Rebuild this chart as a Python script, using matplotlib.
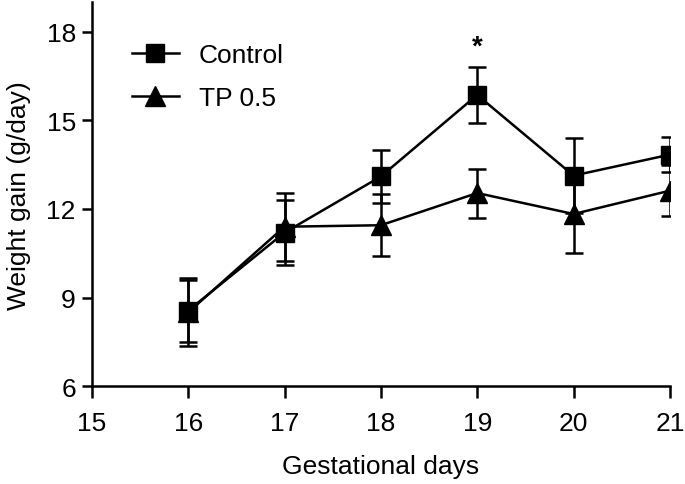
import matplotlib
matplotlib.use("Agg")
from matplotlib import pyplot as plt

plt.rcParams['font.family'] = ['Liberation Sans', 'DejaVu Sans']

days = [16, 17, 18, 19, 20, 21]
control = [8.56, 11.2, 13.1, 15.86, 13.13, 13.84]
control_err = [1.05, 1.1, 0.9, 0.94, 1.27, 0.6]
tp = [8.5, 11.4, 11.45, 12.54, 11.83, 12.62]
tp_err = [1.15, 1.15, 1.05, 0.83, 1.33, 0.87]
star_day = 19
star_y = 17.5

fig = plt.figure(figsize=(6.85, 4.85), dpi=100)
ax = fig.add_axes([0.134, 0.2015, 0.844, 0.792])

ax.errorbar(days, control, yerr=control_err, color='black', marker='s',
            markersize=13, linewidth=1.8, elinewidth=1.8, capsize=6.5,
            capthick=1.8, label='Control')
ax.errorbar(days, tp, yerr=tp_err, color='black', marker='^',
            markersize=14, linewidth=1.8, elinewidth=1.8, capsize=6.5,
            capthick=1.8, label='TP 0.5')

ax.text(star_day, star_y, '*', ha='center', va='center', fontsize=20,
        fontweight='bold')

ax.set_xlim(15, 21)
ax.set_ylim(6, 19)
ax.set_xticks(range(15, 22))
ax.set_yticks([6, 9, 12, 15, 18])
ax.spines['top'].set_visible(False)
ax.spines['right'].set_visible(False)
for s in ['left', 'bottom']:
    ax.spines[s].set_linewidth(1.8)
ax.tick_params(axis='x', width=1.8, length=8.5, labelsize=19, pad=9)
ax.tick_params(axis='y', width=1.8, length=7.5, labelsize=19, pad=4)
ax.set_xlabel('Gestational days', fontsize=19, labelpad=14)
ax.set_ylabel('Weight gain (g/day)', fontsize=19, labelpad=11)

handles, labels = ax.get_legend_handles_labels()
handles = [h[0] for h in handles]
ax.legend(handles, labels, loc='upper left', bbox_to_anchor=(0.028, 0.955),
          frameon=False, fontsize=19, handlelength=1.8, handletextpad=0.75,
          labelspacing=0.72)

fig.savefig('out.png', dpi=100)
